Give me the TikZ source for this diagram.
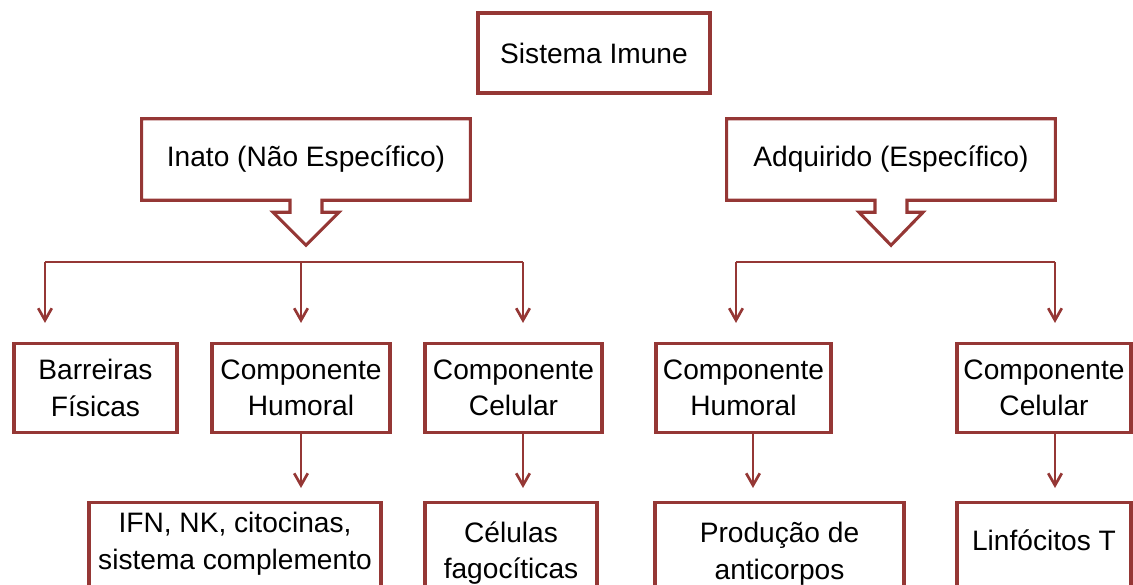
\documentclass[tikz,border=0pt]{standalone}
\usepackage{fontspec}
\setmainfont{Liberation Sans}
\usetikzlibrary{arrows.meta,calc}
\definecolor{borda}{RGB}{149,55,53}
\tikzset{
  caixa/.style={draw=borda,line width=2.2pt,inner sep=1pt,align=center},
  caixabaixo/.style={caixa,anchor=north,minimum height=3cm},
  texto/.style={align=center,inner sep=1pt},
  balao/.style={draw=borda,line width=2.2pt,line join=miter},
  linha/.style={draw=borda,line width=1.9pt},
  seta/.style={linha,-{Straight Barb[length=0.3cm,width=0.34cm]}},
}
\begin{document}
\begin{tikzpicture}[x=0.025cm,y=-0.025cm,font=\fontsize{20}{26}\selectfont]
\useasboundingbox (0,0) rectangle (1133,585);
\clip (0,0) rectangle (1133,585);
% topo
\node[caixa,minimum width=5.8cm,minimum height=2cm] (sis) at (594,53) {Sistema Imune};
% baloes com seta
\node[minimum width=8.2cm,minimum height=2.025cm] (inato) at (306,159.5) {Inato (Não Específico)};
\node[minimum width=8.2cm,minimum height=2.025cm] (adq) at (891,159.5) {Adquirido (Específico)};
\draw[balao] (inato.north west) -| (inato.south east) -- ($(inato.south)+(16,0)$) -- ++(0,12) -- ++(17,0)
  -- ++(-33,33) -- ++(-33,-33) -- ++(17,0) -- ++(0,-12) -- (inato.south west) -- cycle;
\draw[balao] (adq.north west) -| (adq.south east) -- ($(adq.south)+(16,0)$) -- ++(0,12) -- ++(16,0)
  -- ++(-32,33) -- ++(-32,-33) -- ++(16,0) -- ++(0,-12) -- (adq.south west) -- cycle;
% segunda linha
\node[caixa,minimum width=4.075cm,minimum height=2.225cm] (barr) at (95.5,388) {Barreiras\\Físicas};
\node[caixa,minimum width=4.45cm,minimum height=2.225cm] (humi) at (301,388) {Componente\\Humoral};
\node[caixa,minimum width=4.425cm,minimum height=2.225cm] (celi) at (513.5,388) {Componente\\Celular};
\node[caixa,minimum width=4.375cm,minimum height=2.225cm] (huma) at (743.5,388) {Componente\\Humoral};
\node[caixa,minimum width=4.35cm,minimum height=2.225cm] (cela) at (1044,388) {Componente\\Celular};
% terceira linha (cortada embaixo)
\node[caixabaixo,minimum width=7.3cm] (ifn) at (235,501) {};
\node[caixabaixo,minimum width=4.3cm] (fago) at (511,501) {};
\node[caixabaixo,minimum width=6.225cm] (prod) at (779.5,501) {};
\node[caixabaixo,minimum width=4.35cm] (linf) at (1044,501) {};
\node[texto] (ifnt) at (235,544) {IFN, NK, citocinas,\\sistema complemento};
\node[texto] (fagot) at (511,553) {Células\\fagocíticas};
\node[texto] (prodt) at (779.5,554) {Produção de\\anticorpos};
\node[texto] (linft) at (1044,540) {Linfócitos T};
% ramos
\coordinate (inatoL) at (45,262);
\coordinate (inatoR) at (523,262);
\coordinate (adqL) at (736,262);
\coordinate (adqR) at (1055,262);
\coordinate (humaX) at (753,0);
\draw[linha] (inatoL) -- (inatoR);
\draw[linha] (adqL) -- (adqR);
\draw[seta,shorten >=0.475cm] (inatoL) -- (inatoL |- barr.north);
\draw[seta,shorten >=0.475cm] (humi.north |- inatoL) -- (humi.north);
\draw[seta,shorten >=0.475cm] (inatoR) -- (inatoR |- celi.north);
\draw[seta,shorten >=0.475cm] (adqL) -- (adqL |- huma.north);
\draw[seta,shorten >=0.475cm] (adqR) -- (adqR |- cela.north);
\draw[seta,shorten >=0.325cm] (humi.south) -- (humi.south |- ifn.north);
\draw[seta,shorten >=0.325cm] (inatoR |- celi.south) -- (inatoR |- fago.north);
\draw[seta,shorten >=0.325cm] (humaX |- huma.south) -- (humaX |- prod.north);
\draw[seta,shorten >=0.325cm] (adqR |- cela.south) -- (adqR |- linf.north);
\end{tikzpicture}
\end{document}
